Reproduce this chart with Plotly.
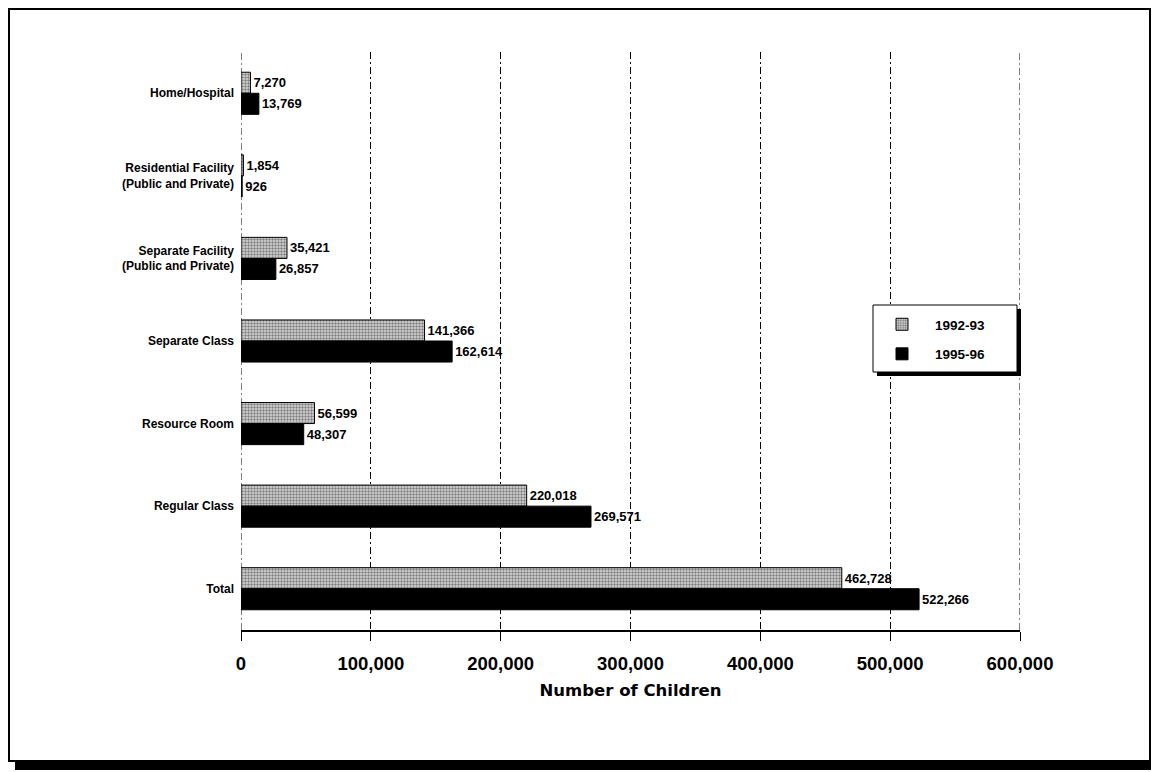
import plotly.graph_objects as go

# ---- data (top to bottom as in the chart) ----
categories = [
    "Home/Hospital",
    "Residential Facility<br>(Public and Private)",
    "Separate Facility<br>(Public and Private)",
    "Separate Class",
    "Resource Room",
    "Regular Class",
    "Total",
]
series_names = ["1992-93", "1995-96"]
values_1992_93 = [7270, 1854, 35421, 141366, 56599, 220018, 462728]
values_1995_96 = [13769, 926, 26857, 162614, 48307, 269571, 522266]
x_tick_values = [0, 100000, 200000, 300000, 400000, 500000, 600000]
x_tick_labels = ["0", "100,000", "200,000", "300,000", "400,000", "500,000", "600,000"]

OFF = 8  # page body margin
W, H = 1159 - OFF, 772 - OFF
L, R, T, B = 241 - OFF, 1020 - OFF, 52 - OFF, 630 - OFF  # plot area in figure pixels


def px(xp):  # page pixel -> paper x
    return (xp - OFF - L) / (R - L)


def py(yp):  # page pixel -> paper y
    return (B - (yp - OFF)) / (B - T)


GRID_DASH = "7px,3px,2px,3px"
LABEL_FONT = dict(family="Liberation Sans, Arial, sans-serif", size=13, color="black", weight="bold")

fig = go.Figure()
fig.add_trace(go.Bar(
    name=series_names[0], y=categories, x=values_1992_93, orientation="h",
    marker=dict(color="#ffffff", line=dict(color="black", width=1),
                pattern=dict(shape=".", fgcolor="#222222", bgcolor="#dcdcdc",
                             size=3, solidity=0.5)),
    text=values_1992_93, texttemplate="%{x:,}", textposition="outside",
    textfont=LABEL_FONT, cliponaxis=False, legendgroup="a",
))
fig.add_trace(go.Bar(
    name=series_names[1], y=categories, x=values_1995_96, orientation="h",
    marker=dict(color="#000000", line=dict(color="black", width=1)),
    text=values_1995_96, texttemplate="%{x:,}", textposition="outside",
    textfont=LABEL_FONT, cliponaxis=False, legendgroup="b",
))

shapes = []
# outer frame shadow + frame
shapes.append(dict(type="rect", xref="paper", yref="paper", layer="below",
                   x0=px(15), x1=px(1156), y0=py(770), y1=py(15),
                   fillcolor="black", line=dict(width=0)))
shapes.append(dict(type="rect", xref="paper", yref="paper", layer="below",
                   x0=px(9), x1=px(1150), y0=py(761), y1=py(9),
                   fillcolor="white", line=dict(color="black", width=2)))
# grid lines at the range edges (Plotly omits them)
for xv in (x_tick_values[0], x_tick_values[-1]):
    shapes.append(dict(type="line", xref="x", yref="paper", layer="below",
                       x0=xv, x1=xv, y0=0, y1=1,
                       line=dict(color="black", width=1, dash=GRID_DASH)))
# legend box shadow + box
shapes.append(dict(type="rect", xref="paper", yref="paper", layer="above",
                   x0=px(877), x1=px(1021), y0=py(376), y1=py(309),
                   fillcolor="black", line=dict(width=0)))
shapes.append(dict(type="rect", xref="paper", yref="paper", layer="above",
                   x0=px(873), x1=px(1017), y0=py(372), y1=py(305),
                   fillcolor="white", line=dict(color="black", width=1)))

fig.update_layout(
    width=W, height=H,
    margin=dict(l=L, r=W - R, t=T, b=H - B),
    paper_bgcolor="white", plot_bgcolor="rgba(0,0,0,0)",
    barmode="group", bargap=0.49, bargroupgap=0,
    font=dict(family="Liberation Sans, Arial, sans-serif", color="black"),
    shapes=shapes,
    showlegend=True,
    legend=dict(x=px(869), y=py(309), xanchor="left", yanchor="top",
                bgcolor="rgba(0,0,0,0)", borderwidth=0,
                font=dict(size=13.5, family="Liberation Sans, Arial, sans-serif", weight="bold"),
                traceorder="grouped", tracegroupgap=9, itemwidth=56),
    xaxis=dict(
        range=[0, 600000], tickvals=x_tick_values, ticktext=x_tick_labels,
        showgrid=True, gridcolor="black", gridwidth=1, griddash=GRID_DASH,
        zeroline=False, showline=True, linecolor="black", linewidth=2,
        ticks="outside", ticklen=9, tickcolor="black", tickwidth=1,
        tickfont=dict(size=18.5, family="Liberation Sans, Arial, sans-serif", weight="bold"),
        ticklabelstandoff=7,
        title=dict(text="Number of Children", standoff=11,
                   font=dict(size=16.5, family="DejaVu Sans, sans-serif", weight="bold")),
        fixedrange=True,
    ),
    yaxis=dict(
        autorange="reversed", type="category",
        showgrid=False, zeroline=False, showline=False, ticks="",
        tickfont=dict(size=12, family="Liberation Sans Narrow, Arial Narrow, Liberation Sans, sans-serif",
                      weight="bold"),
        ticklabelstandoff=6,
    ),
)

fig.write_html("out.html")
